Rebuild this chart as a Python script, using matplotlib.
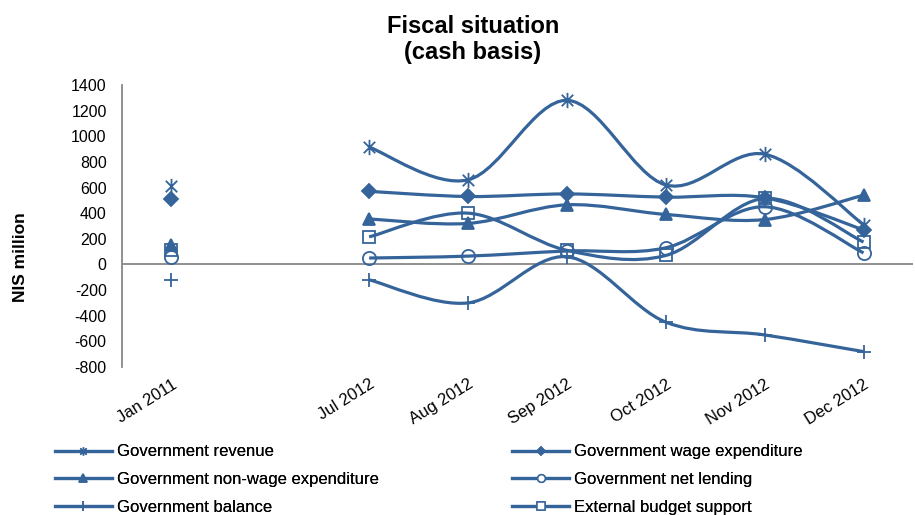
import numpy as np
import matplotlib
matplotlib.use('Agg')
import matplotlib.pyplot as plt
from matplotlib.path import Path
from matplotlib.patches import PathPatch
from matplotlib.lines import Line2D

plt.rcParams['font.family'] = ['Liberation Sans', 'DejaVu Sans']
plt.rcParams['axes.unicode_minus'] = False

# monthly fiscal figures, NIS million (blank slot between Jan 2011 and Jul 2012)
months = ['Jan 2011', '', 'Jul 2012', 'Aug 2012', 'Sep 2012', 'Oct 2012', 'Nov 2012', 'Dec 2012']
revenue = [610, np.nan, 915, 660, 1280, 620, 860, 310]
wage_exp = [510, np.nan, 570, 530, 550, 525, 520, 270]
nonwage_exp = [150, np.nan, 355, 320, 465, 390, 350, 540]
net_lending = [60, np.nan, 50, 65, 105, 130, 450, 90]
balance = [-120, np.nan, -120, -300, 60, -450, -550, -680]
budget_support = [115, np.nan, 215, 400, 110, 70, 515, 175]

names = ['Government revenue', 'Government wage expenditure',
         'Government non-wage expenditure', 'Government net lending',
         'Government balance', 'External budget support']
series = [revenue, wage_exp, nonwage_exp, net_lending, balance, budget_support]

blue = '#35649a'
grey = '#888888'

# asterisk marker: vertical bar plus an x
star = Path([(0, -1), (0, 1), (-0.75, -0.75), (0.75, 0.75), (-0.75, 0.75), (0.75, -0.75)],
            [Path.MOVETO, Path.LINETO, Path.MOVETO, Path.LINETO, Path.MOVETO, Path.LINETO])
markers = [star, 'D', '^', 'o', '+', 's']
msizes = [11, 7, 8.5, 9.5, 10, 9]
leg_sizes = [6, 4.5, 5.5, 5.5, 7, 5.5]
filled = [True, True, True, False, True, False]


def smooth_path(x, y):
    # catmull-rom style bezier through the points, like a spreadsheet "smoothed line"
    verts = [(x[0], y[0])]
    codes = [Path.MOVETO]
    n = len(x)
    for i in range(n - 1):
        p0 = np.array([x[max(i - 1, 0)], y[max(i - 1, 0)]])
        p1 = np.array([x[i], y[i]])
        p2 = np.array([x[i + 1], y[i + 1]])
        p3 = np.array([x[min(i + 2, n - 1)], y[min(i + 2, n - 1)]])
        c1 = p1 + (p2 - p0) / 6.0
        c2 = p2 - (p3 - p1) / 6.0
        verts += [tuple(c1), tuple(c2), tuple(p2)]
        codes += [Path.CURVE4] * 3
    return Path(verts, codes)


fig = plt.figure(figsize=(9.15, 5.15), dpi=100)
ax = fig.add_axes([0.1333, 0.2874, 0.8645, 0.5476])

xs = np.arange(len(months))
for vals, m, ms, f in zip(series, markers, msizes, filled):
    vals = np.array(vals, dtype=float)
    ok = ~np.isnan(vals)
    # line only over the consecutive 2012 months
    ax.add_patch(PathPatch(smooth_path(xs[2:], vals[2:]), facecolor='none',
                           edgecolor=blue, lw=2.3, zorder=2))
    ax.plot(xs[ok], vals[ok], linestyle='none', marker=m, markersize=ms,
            markerfacecolor=blue if f else 'none', markeredgecolor=blue,
            markeredgewidth=1.3, zorder=3)

ax.set_xlim(-0.5, 7.5)
ax.set_ylim(-800, 1400)
ax.set_yticks(np.arange(-800, 1401, 200))
ax.set_xticks(xs)
ax.set_xticklabels(months, rotation=32, ha='right', va='top', rotation_mode='anchor')
ax.tick_params(axis='y', length=0, pad=11, labelsize=11.5)
ax.tick_params(axis='x', length=0, pad=7, labelsize=12)
for s in ['top', 'right', 'bottom']:
    ax.spines[s].set_visible(False)
ax.spines['left'].set_color(grey)
ax.spines['left'].set_linewidth(1.3)
ax.axhline(0, color=grey, lw=1.3, zorder=1)

fig.text(0.517, 0.923, 'Fiscal situation\n(cash basis)', ha='center', va='center',
         fontsize=17, fontweight='bold', linespacing=1.2)
fig.text(0.022, 0.50, 'NIS million', rotation=90, ha='center', va='center',
         fontsize=12.5, fontweight='bold')

handles = []
for m, f, ls in zip(markers, filled, leg_sizes):
    handles.append(Line2D([], [], color=blue, lw=2.3, marker=m, markersize=ls,
                          markerfacecolor=blue if f else 'white',
                          markeredgecolor=blue, markeredgewidth=1.1))

left_idx = [0, 2, 4]
right_idx = [1, 3, 5]
for idx, x0 in [(left_idx, 0.060), (right_idx, 0.560)]:
    leg = fig.legend([handles[i] for i in idx], [names[i] for i in idx],
                     loc='upper left', bbox_to_anchor=(x0, 0.137),
                     frameon=False, fontsize=12, handlelength=3.4, handletextpad=0.3,
                     labelspacing=0.76, borderpad=0, borderaxespad=0)
    fig.add_artist(leg)

fig.savefig('out.png', dpi=100)
